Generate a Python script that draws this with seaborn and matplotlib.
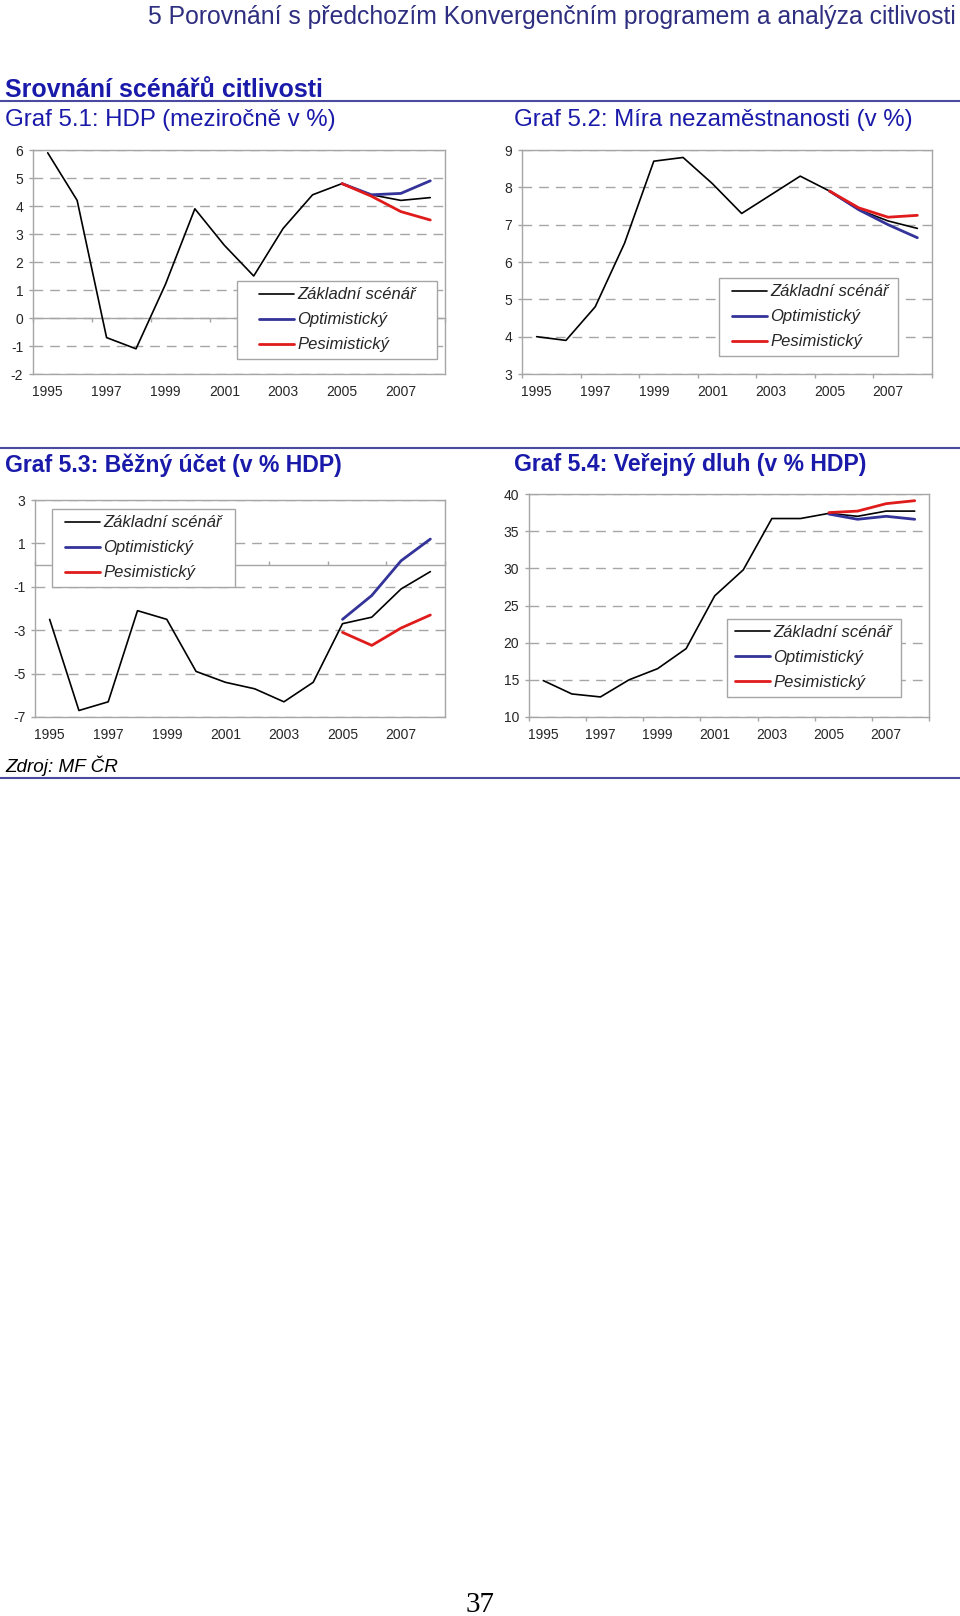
import numpy as np
import pandas as pd
import matplotlib.pyplot as plt
import seaborn as sns
from matplotlib.lines import Line2D
from matplotlib.legend_handler import HandlerLine2D

sns.set_style('white')
plt.rcParams['font.family'] = ['Liberation Sans', 'DejaVu Sans']
plt.rcParams['axes.unicode_minus'] = False

roky = list(range(1995, 2009))
roky_scenar = [2005, 2006, 2007, 2008]
popisky_let = ['1995', '1997', '1999', '2001', '2003', '2005', '2007']
scenare = ['Základní scénář', 'Optimistický', 'Pesimistický']

# Graf 5.1 HDP (meziročně v %)
hdp_zakl = [5.9, 4.2, -0.7, -1.1, 1.2, 3.9, 2.6, 1.5, 3.2, 4.4, 4.8, 4.4, 4.2, 4.3]
hdp_opt = [4.8, 4.4, 4.45, 4.9]
hdp_pes = [4.8, 4.35, 3.8, 3.5]

# Graf 5.2 Míra nezaměstnanosti (v %)
nez_zakl = [4.0, 3.9, 4.8, 6.5, 8.7, 8.8, 8.1, 7.3, 7.8, 8.3, 7.9, 7.4, 7.1, 6.9]
nez_opt = [7.9, 7.4, 7.0, 6.65]
nez_pes = [7.9, 7.45, 7.2, 7.25]

# Graf 5.3 Běžný účet (v % HDP)
bu_zakl = [-2.5, -6.7, -6.3, -2.1, -2.5, -4.9, -5.4, -5.7, -6.3, -5.4, -2.7, -2.4, -1.1, -0.3]
bu_opt = [-2.5, -1.4, 0.2, 1.2]
bu_pes = [-3.1, -3.7, -2.9, -2.3]

# Graf 5.4 Veřejný dluh (v % HDP)
dluh_zakl = [14.9, 13.1, 12.7, 15.0, 16.5, 19.2, 26.3, 29.8, 36.7, 36.7, 37.4, 37.0, 37.7, 37.7]
dluh_opt = [37.3, 36.6, 37.0, 36.6]
dluh_pes = [37.5, 37.7, 38.7, 39.1]

W, H = 960, 1616
fig = plt.figure(figsize=(W / 100, H / 100), dpi=100)

seda = '#a6a6a6'
modra = '#333399'
cervena = '#e01b1b'
nadpis_barva = '#1a1aaa'
LEG_FS = 12


def osy(x0, y0, x1, y1):
    return fig.add_axes([x0 / W, 1 - y1 / H, (x1 - x0) / W, (y1 - y0) / H])


def graf(ax, zakl, opt, pes, ymin, ymax, krok, leg_box, leg_odsazeni, osa_nula=False):
    poz = {r: i for i, r in enumerate(roky)}
    df = pd.DataFrame({'poz': [poz[r] for r in roky], 'hodnota': zakl})
    df_opt = pd.DataFrame({'poz': [poz[r] for r in roky_scenar], 'hodnota': opt})
    df_pes = pd.DataFrame({'poz': [poz[r] for r in roky_scenar], 'hodnota': pes})
    sns.lineplot(data=df, x='poz', y='hodnota', ax=ax, color='black', linewidth=1.2,
                 label=scenare[0], zorder=3)
    sns.lineplot(data=df_opt, x='poz', y='hodnota', ax=ax, color=modra, linewidth=2.0,
                 label=scenare[1], zorder=4)
    sns.lineplot(data=df_pes, x='poz', y='hodnota', ax=ax, color=cervena, linewidth=2.0,
                 label=scenare[2], zorder=5)

    ax.set_xlim(-0.5, len(roky) - 0.5)
    ax.set_ylim(ymin, ymax)
    ax.set_xlabel('')
    ax.set_ylabel('')
    ax.set_xticks(np.arange(0, len(roky), 2))
    ax.set_xticklabels(popisky_let)
    ax.set_xticks(np.arange(-0.5, len(roky), 2), minor=True)
    ax.set_yticks(np.arange(ymin, ymax + krok / 2, krok))
    ax.tick_params(axis='x', which='major', length=0, pad=8, labelsize=10)
    ax.tick_params(axis='x', which='minor', bottom=True, length=0 if osa_nula else 3,
                   color=seda, width=1)
    ax.tick_params(axis='y', left=True, length=3, color=seda, width=1, pad=4, labelsize=10)
    ax.yaxis.grid(True, linestyle=(0, (7, 5)), color=seda, linewidth=1.0)
    ax.xaxis.grid(False)
    for s in ax.spines.values():
        s.set_color(seda)
        s.set_linewidth(1.0)

    if osa_nula:
        frac = -ymin / (ymax - ymin)
        sec = ax.secondary_xaxis(frac)
        sec.set_xticks(np.arange(-0.5, len(roky), 2))
        sec.tick_params(length=3, color=seda, width=1, labelbottom=False, labeltop=False)
        for s in sec.spines.values():
            s.set_color(seda)
            s.set_linewidth(1.0)

    # legenda: okraj vlevo pred carou, cara ~35 px
    fs_px = LEG_FS * 100 / 72
    bpad = 0.38
    xpad = max(leg_odsazeni - bpad * fs_px, 0) / fs_px
    x0, y0, x1, y1 = leg_box
    ax.legend(loc='upper left', mode='expand',
              bbox_to_anchor=(x0 / W, 1 - y1 / H, (x1 - x0) / W, (y1 - y0) / H),
              bbox_transform=fig.transFigure, borderaxespad=0,
              frameon=True, fancybox=False, framealpha=1, edgecolor=seda,
              prop={'style': 'italic', 'size': LEG_FS},
              handlelength=xpad + 35 / fs_px, handletextpad=0.2, labelspacing=0.6,
              borderpad=bpad, handler_map={Line2D: HandlerLine2D(xpad=xpad)})


ax1 = osy(33, 150, 445, 374)
graf(ax1, hdp_zakl, hdp_opt, hdp_pes, -2, 6, 1, (237, 281, 437, 360), 22, osa_nula=True)

ax2 = osy(522, 150, 932, 374)
graf(ax2, nez_zakl, nez_opt, nez_pes, 3, 9, 1, (719, 278, 898, 358), 13)

ax3 = osy(35, 500, 445, 717)
graf(ax3, bu_zakl, bu_opt, bu_pes, -7, 3, 2, (52, 509, 235, 592), 13, osa_nula=True)

ax4 = osy(529, 494, 929, 717)
graf(ax4, dluh_zakl, dluh_opt, dluh_pes, 10, 40, 5, (727, 619, 901, 700), 8)

# texty stranky
fig.text(956 / W, 1 - 17 / H,
         '5 Porovnání s předchozím Konvergenčním programem a analýza citlivosti',
         ha='right', va='center', fontsize=17.8, color='#2e2e80')
fig.text(5 / W, 1 - 97 / H, 'Srovnání scénářů citlivosti', ha='left', va='baseline',
         fontsize=18, fontweight='bold', color=nadpis_barva)
fig.text(5 / W, 1 - 120 / H, 'Graf 5.1: HDP (meziročně v %)', ha='left', va='center',
         fontsize=17.3, color=nadpis_barva)
fig.text(514 / W, 1 - 120 / H, 'Graf 5.2: Míra nezaměstnanosti (v %)', ha='left',
         va='center', fontsize=17.3, color=nadpis_barva)
fig.text(5 / W, 1 - 465 / H, 'Graf 5.3: Běžný účet (v % HDP)', ha='left', va='center',
         fontsize=16.6, fontweight='bold', color=nadpis_barva)
fig.text(514 / W, 1 - 465 / H, 'Graf 5.4: Veřejný dluh (v % HDP)', ha='left',
         va='center', fontsize=16.6, fontweight='bold', color=nadpis_barva)
fig.text(5 / W, 1 - 766 / H, 'Zdroj: MF ČR', ha='left', va='center', fontsize=13.6,
         style='italic', color='black')
fig.text(480 / W, 1 - 1605 / H, '37', ha='center', va='center', fontsize=21,
         family=['Liberation Serif', 'DejaVu Serif'], color='black')

for y in [101, 447.5, 778]:
    fig.add_artist(Line2D([0, 1], [1 - y / H, 1 - y / H], transform=fig.transFigure,
                          color='#4a4aa0', linewidth=1.5))

fig.savefig('out.png', dpi=100)
